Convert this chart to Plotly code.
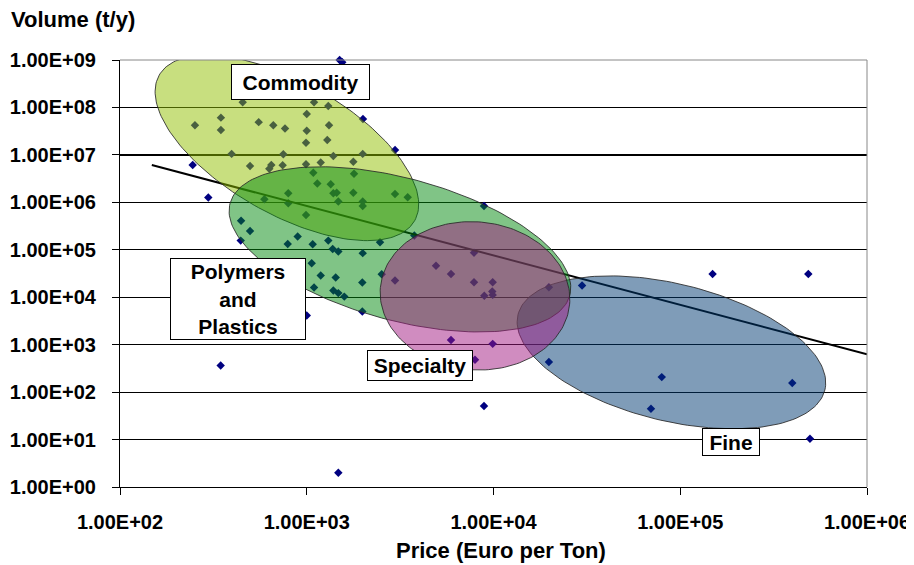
import numpy as np
import plotly.graph_objects as go

# ---------------- data ----------------
price = [1500, 1550, 2000, 2970, 245, 297, 454, 1094, 1304, 1000,
         347, 252, 553, 662, 765, 1316, 347, 1000, 991, 1288,
         396, 749, 1388, 1994, 497, 646, 630, 743, 991, 1188,
         1776, 1084, 1791, 1139, 1344, 796, 1388, 1447, 1776, 2969,
         3472, 593, 796, 1476, 1994, 1994, 991, 445, 497, 443,
         894, 791, 1076, 1304, 1377, 1476, 1994, 2468, 3766, 1063,
         1188, 1429, 1984, 1094, 1388, 1476, 1589, 1984, 1000, 2520,
         2969, 8894, 7864, 4921, 5922, 7864, 9901, 9850, 9901, 8927,
         19800, 29800, 5922, 9901, 7962, 19800, 8894, 149000, 485000, 79600,
         398000, 69700, 495000, 346, 1476]
volume = [1.0e9, 9.0e8, 5.7e7, 1.27e7, 6.1e6, 1.26e6, 1.29e8, 1.29e8, 1.07e8, 7.3e7,
          6.1e7, 4.2e7, 4.9e7, 4.2e7, 3.6e7, 4.2e7, 3.35e7, 3.24e7, 1.81e7, 2.06e7,
          1.05e7, 1.03e7, 9.5e6, 1.05e7, 5.85e6, 6.1e6, 5.1e6, 6.05e6, 6.35e6, 6.9e6,
          7.2e6, 4.2e6, 4.0e6, 2.5e6, 2.4e6, 1.56e6, 1.56e6, 1.6e6, 1.6e6, 1.5e6,
          1.28e6, 1.16e6, 9.6e5, 1.04e6, 1.04e6, 8.4e5, 5.4e5, 4.1e5, 2.5e5, 1.56e5,
          1.9e5, 1.33e5, 1.31e5, 1.56e5, 1.04e5, 9.2e4, 8.5e4, 1.44e5, 2.0e5, 5.2e4,
          2.86e4, 2.6e4, 2.04e4, 1.6e4, 1.38e4, 1.22e4, 1.03e4, 5.0e3, 4.1e3, 3.06e4,
          2.24e4, 8.4e5, 8.7e4, 4.6e4, 3.1e4, 2.07e4, 2.07e4, 1.32e4, 1.12e4, 1.07e4,
          1.63e4, 1.76e4, 1260, 1040, 480, 430, 51, 3.1e4, 3.1e4, 207,
          155, 44.5, 10.4, 363, 2.0]

# power trend line  volume = coef * price ** exp
trend_coef = 1.11e9
trend_exp = -1.041
trend_price = [148, 1e6]

x_tick_vals = [1e2, 1e3, 1e4, 1e5, 1e6]
x_tick_text = ["1.00E+02", "1.00E+03", "1.00E+04", "1.00E+05", "1.00E+06"]
y_tick_vals = [1e0, 1e1, 1e2, 1e3, 1e4, 1e5, 1e6, 1e7, 1e8, 1e9]
y_tick_text = ["1.00E+00", "1.00E+01", "1.00E+02", "1.00E+03", "1.00E+04",
               "1.00E+05", "1.00E+06", "1.00E+07", "1.00E+08", "1.00E+09"]
heavy_grid_value = 1e7

segment_names = ["Commodity", "Polymers<br>and<br>Plastics", "Specialty", "Fine"]

# ---------------- layout constants ----------------
PAGE_W, PAGE_H = 914, 565
OFF = 8                      # default page margin around the plot div
W, H = PAGE_W - OFF, PAGE_H - OFF
ML, MR, MT, MB = 120 - OFF, 47, 60 - OFF, 78
PW, PH = W - ML - MR, H - MT - MB
X_RANGE = (2, 6)
Y_RANGE = (0, 9)
PX_X = PW / (X_RANGE[1] - X_RANGE[0])   # pixels per decade
PX_Y = PH / (Y_RANGE[1] - Y_RANGE[0])

# segment ellipses: centre (price, volume), semi-axes (px), tilt (deg, screen)
ell_center_price = [783, 3155, 7960, 89700]
ell_center_volume = [1.40e7, 1.02e5, 1.07e4, 689]
ell_a = [147, 176, 95, 158]
ell_b = [66, 71, 74, 68.5]
ell_tilt = [29.7, 15.2, 5, 13.8]
ell_fill = ["rgba(145,191,0,0.5)", "rgba(1,137,13,0.5)",
            "rgba(161,25,129,0.5)", "rgba(0,57,113,0.5)"]
draw_order = [3, 0, 1, 2]   # Fine, Commodity, Polymers, Specialty

# label boxes: centre (price, volume), box size px
label_price = [931, 428, 4030, 187000]
label_volume = [3.44e8, 9.2e3, 358, 8.75]
label_w = [137, 134, 104, 56]
label_h = [34, 80, 29, 26]

FONT = "Liberation Sans, Arial, sans-serif"


def ellipse(cp, cv, a, b, tilt, n=181):
    t = np.linspace(0, 2 * np.pi, n)
    th = np.radians(tilt)
    dx = a * np.cos(t) * np.cos(th) - b * np.sin(t) * np.sin(th)
    dy = a * np.cos(t) * np.sin(th) + b * np.sin(t) * np.cos(th)
    lx = np.log10(cp) + dx / PX_X
    ly = np.log10(cv) - dy / PX_Y
    return 10 ** lx, 10 ** ly


def paper_x(px):
    return (px - OFF - ML) / PW


def paper_y(py):
    return 1 - (py - OFF - MT) / PH


fig = go.Figure()

fig.add_trace(go.Scatter(
    x=price, y=volume, mode="markers",
    marker=dict(symbol="diamond", size=6.5, color="#000080"),
    cliponaxis=False, showlegend=False))

tx = np.array(trend_price, dtype=float)
fig.add_trace(go.Scatter(
    x=tx, y=trend_coef * tx ** trend_exp, mode="lines",
    line=dict(color="black", width=2), showlegend=False))

for i in draw_order:
    ex, ey = ellipse(ell_center_price[i], ell_center_volume[i],
                     ell_a[i], ell_b[i], ell_tilt[i])
    fig.add_trace(go.Scatter(
        x=ex, y=ey, mode="lines", fill="toself",
        fillcolor=ell_fill[i],
        line=dict(color="rgba(40,40,40,0.85)", width=1),
        showlegend=False, hoverinfo="skip"))

for i, name in enumerate(segment_names):
    fig.add_annotation(
        x=np.log10(label_price[i]), y=np.log10(label_volume[i]),
        xref="x", yref="y", text=name, showarrow=False,
        font=dict(family=FONT, size=21, color="black", weight="bold"),
        bgcolor="white", bordercolor="black", borderwidth=1, borderpad=0,
        width=label_w[i], height=label_h[i], align="center", valign="middle")

fig.add_annotation(
    x=paper_x(9), y=paper_y(20), xref="paper", yref="paper",
    xanchor="left", yanchor="middle", text="Volume (t/y)", showarrow=False,
    font=dict(family=FONT, size=22, color="black", weight="bold"))
fig.add_annotation(
    x=paper_x(501), y=paper_y(550), xref="paper", yref="paper",
    xanchor="center", yanchor="middle", text="Price (Euro per Ton)",
    showarrow=False,
    font=dict(family=FONT, size=22, color="black", weight="bold"))

# grey top and right frame of the plot area
fig.add_shape(type="line", xref="paper", yref="paper", x0=0, x1=1, y0=1, y1=1,
              line=dict(color="#888888", width=1))
fig.add_shape(type="line", xref="paper", yref="paper", x0=1, x1=1, y0=0, y1=1,
              line=dict(color="#888888", width=1))
# one gridline is drawn heavier in the original
fig.add_shape(type="line", xref="paper", yref="y", x0=0, x1=1,
              y0=heavy_grid_value, y1=heavy_grid_value, layer="below",
              line=dict(color="black", width=2))

tickfont = dict(family=FONT, size=20, color="black", weight="bold")
fig.update_xaxes(
    type="log", range=list(X_RANGE), tickvals=x_tick_vals, ticktext=x_tick_text,
    showgrid=False, showline=True, linecolor="black", linewidth=1,
    ticks="outside", ticklen=7, tickcolor="black", tickfont=tickfont,
    ticklabelstandoff=10, zeroline=False, automargin=False)
fig.update_yaxes(
    type="log", range=list(Y_RANGE), tickvals=y_tick_vals, ticktext=y_tick_text,
    showgrid=True, gridcolor="black", gridwidth=1,
    showline=True, linecolor="black", linewidth=1,
    ticks="outside", ticklen=7, tickcolor="black", tickfont=tickfont,
    ticklabelstandoff=12, zeroline=False, automargin=False)

fig.update_layout(
    width=W, height=H, autosize=False,
    margin=dict(l=ML, r=MR, t=MT, b=MB),
    plot_bgcolor="white", paper_bgcolor="white",
    showlegend=False)

fig.write_html("out.html")
